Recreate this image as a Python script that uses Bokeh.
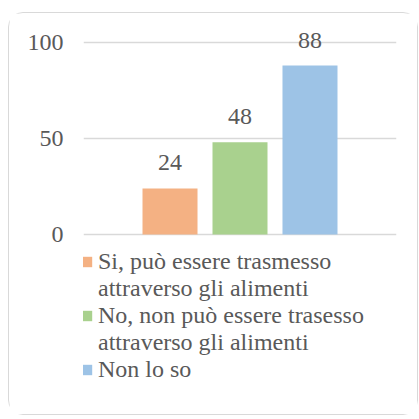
from bokeh.plotting import figure
from bokeh.models import ColumnDataSource, Legend, LegendItem, Range1d, FixedTicker, LabelSet
from bokeh.embed import file_html
from bokeh.resources import INLINE

categories = ["Si, può essere trasmesso\nattraverso gli alimenti",
              "No, non può essere trasesso\nattraverso gli alimenti",
              "Non lo so"]
values = [24, 48, 88]
colors = ["#F4B183", "#A9D18E", "#9DC3E6"]
y_ticks = [0, 50, 100]

FONT = "'Liberation Serif', 'Times New Roman', serif"
TXT = "#595959"
FS = "24px"

positions = [1, 2, 3]
src = ColumnDataSource(dict(x=positions, top=values, color=colors,
                            lab=[str(v) for v in values]))

# frame spans the whole card; value axis 0..100 occupies the upper part,
# the legend sits in the lower part
p = figure(width=410, height=403, output_backend="svg", toolbar_location=None,
           x_range=Range1d(-0.236, 4.236), y_range=Range1d(-88.54, 108.85),
           min_border_left=74, min_border_right=23, min_border_top=12, min_border_bottom=12)
p.styles = {"border": "1px solid #d9d9d9", "border-radius": "15px",
            "margin-top": "12px", "margin-left": "8px"}
p.outline_line_color = None
p.xaxis.visible = False
p.xgrid.visible = False
p.ygrid.grid_line_color = "#d9d9d9"
p.ygrid.grid_line_width = 1.3
p.yaxis.ticker = FixedTicker(ticks=y_ticks)
p.yaxis.axis_line_color = None
p.yaxis.major_tick_line_color = None
p.yaxis.minor_tick_line_color = None
p.yaxis.major_tick_out = 0
p.yaxis.major_tick_in = 0
p.yaxis.minor_tick_out = 0
p.yaxis.major_label_text_font = FONT
p.yaxis.major_label_text_font_size = FS
p.yaxis.major_label_text_color = TXT
p.yaxis.major_label_standoff = 20

renderers = []
for i in range(len(values)):
    r = p.vbar(x=[positions[i]], top=[values[i]], width=0.786, color=colors[i], line_color=None)
    renderers.append(r)

# invisible renderer used for continuation lines of legend labels
blank = p.vbar(x=[], top=[], width=0.5, fill_alpha=0, line_alpha=0)

labels = LabelSet(x="x", y="top", text="lab", source=src, text_align="center",
                  text_baseline="bottom", y_offset=18, text_font=FONT,
                  text_font_size=FS, text_color=TXT)
p.add_layout(labels)

items = []
for i, cat in enumerate(categories):
    lines = cat.split("\n")
    items.append(LegendItem(label=lines[0], renderers=[renderers[i]]))
    for extra in lines[1:]:
        items.append(LegendItem(label=extra, renderers=[blank]))

legend = Legend(items=items, location=(-3, 21), orientation="vertical")
legend.label_text_font = FONT
legend.label_text_font_size = FS
legend.label_text_color = TXT
legend.label_height = 25
legend.glyph_width = 13
legend.glyph_height = 13
legend.label_standoff = 5
legend.spacing = 0
legend.padding = 0
legend.margin = 0
legend.border_line_color = None
legend.background_fill_alpha = 0
p.add_layout(legend, "center")

open("out.html", "w").write(file_html(p, INLINE))
